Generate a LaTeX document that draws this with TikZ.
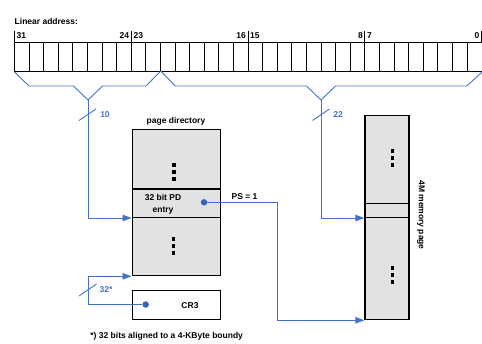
\documentclass[tikz,border=0pt]{standalone}
\usepackage{fontspec}
\setmainfont{Liberation Sans}
\usetikzlibrary{arrows.meta,calc}
\definecolor{lblue}{RGB}{68,114,196}
\definecolor{dblue}{RGB}{55,100,185}
\definecolor{boxgray}{RGB}{225,226,228}
\begin{document}
\begin{tikzpicture}[x=1pt,y=-1pt,
  lbl/.style={font=\bfseries\fontsize{8.5}{9}\selectfont, inner sep=0pt},
  bl/.style={lbl, text=lblue},
  conn/.style={draw=lblue, line width=0.9pt},
  arr/.style={conn, -{Triangle[length=9pt,width=6.5pt]}},
  cell/.style={draw=black, line width=1.3pt, fill=boxgray, minimum width=88pt, inner sep=0pt, anchor=north west},
  regline/.style={draw=black, line width=0.8pt},
  bluedot/.style={circle, fill=dblue, minimum size=6.5pt, inner sep=0pt},
  vd/.pic={\fill (-1.7,-8.7) rectangle +(3.4,3.4);
           \fill (-1.7,-1.7) rectangle +(3.4,3.4);
           \fill (-1.7,5.3) rectangle +(3.4,3.4);}
]
\useasboundingbox (0,0) rectangle (482,343);

% title
\node[lbl, anchor=base west] (title) at (14.5,24) {Linear address:};

% register
\node[regline, draw, anchor=north west, minimum width=467.2pt, minimum height=29pt, inner sep=0pt] (reg) at (14.3,42) {};
\foreach \i in {1,...,31} {
  \draw[regline] ($(reg.north west)+(\i*14.6,0)$) -- ($(reg.south west)+(\i*14.6,0)$);
}
% bit ticks
\foreach \i in {0,8,16,24,32} {
  \draw[regline] ($(reg.north west)+(\i*14.6,0)$) -- ($(reg.north west)+(\i*14.6,-11)$);
}
\node[lbl, anchor=base west] (b31) at (16.5,38.5) {31};
\node[lbl, anchor=base east] (b24) at (129.3,38.5) {24};
\node[lbl, anchor=base west] (b23) at (133.5,38.5) {23};
\node[lbl, anchor=base east] (b16) at (246,38.5) {16};
\node[lbl, anchor=base west] (b15) at (250,38.5) {15};
\node[lbl, anchor=base east] (b8) at (363,38.5) {8};
\node[lbl, anchor=base west] (b7) at (367,38.5) {7};
\node[lbl, anchor=base east] (b0) at (479.5,38.5) {0};

% braces
\coordinate (apex1) at (88,100);
\coordinate (apex2) at (321,100);
\draw[conn] (reg.south west) -- (29,86) -- (73.5,86) -- (apex1) -- (102.5,86) -- (146,86) -- (160.7,71);
\draw[conn] (160.7,71) -- (175.3,86) -- (306.5,86) -- (apex2) -- (335.5,86) -- (466.7,86) -- (reg.south east);

% page directory
\node[lbl] (pdlabel) at (176,121) {page directory};
\node[cell, minimum height=59.3pt] (pdtop) at (131.5,129) {};
\node[cell, minimum height=28.4pt] (pde) at (131.5,188.3) {};
\node[cell, minimum height=58.3pt] (pdbot) at (131.5,216.7) {};
\pic at (174,172) {vd};
\pic at (173.5,246) {vd};
\node[lbl, align=center, font=\bfseries\fontsize{8.5}{12}\selectfont] (pdetext) at (163,204.5) {32 bit PD\\entry};
\node[bluedot] (psdot) at (204,202.3) {};

% memory page
\node[cell, minimum width=44pt, minimum height=87.7pt] (mtop) at (364.3,115) {};
\node[cell, minimum width=44pt, minimum height=14pt] (mmid) at (364.3,202.7) {};
\node[cell, minimum width=44pt, minimum height=102.3pt] (mbot) at (364.3,216.7) {};
\pic at (392.7,158) {vd};
\pic at (392.7,275) {vd};
\node[lbl, rotate=-90] (mlabel) at (421,215) {4M memory page};

% CR3
\node[draw=black, line width=1.3pt, fill=white, minimum width=88pt, minimum height=29pt, inner sep=0pt, anchor=north west] (cr3) at (131.5,290) {};
\node[lbl] (cr3text) at (190,306) {CR3};
\node[bluedot] (crdot) at (145.7,304.5) {};

% connectors
\draw[arr] (apex1) |- (pde.south west);
\draw[conn] (79,120.5) -- (96,109);
\node[bl] (n10) at (105,115) {10};

\draw[arr] (apex2) |- (mmid.south west);
\draw[conn] (312.5,120.5) -- (329.5,109);
\node[bl] (n22) at (338,115) {22};

\coordinate (psbend) at (277.3,202.3);
\draw[arr] (psdot) -- (psbend) |- (mbot.south west);
\node[lbl] (ps) at (244.5,197) {PS = 1};

\draw[arr] (crdot) -- (crdot -| apex1) |- (pdbot.south west);
\draw[conn] (79,296) -- (96.5,284);
\node[bl] (n32) at (106,289.5) {32*};

% footnote
\node[lbl] (foot) at (166.7,336.5) {*) 32 bits aligned to a 4-KByte boundy};
\end{tikzpicture}
\end{document}
